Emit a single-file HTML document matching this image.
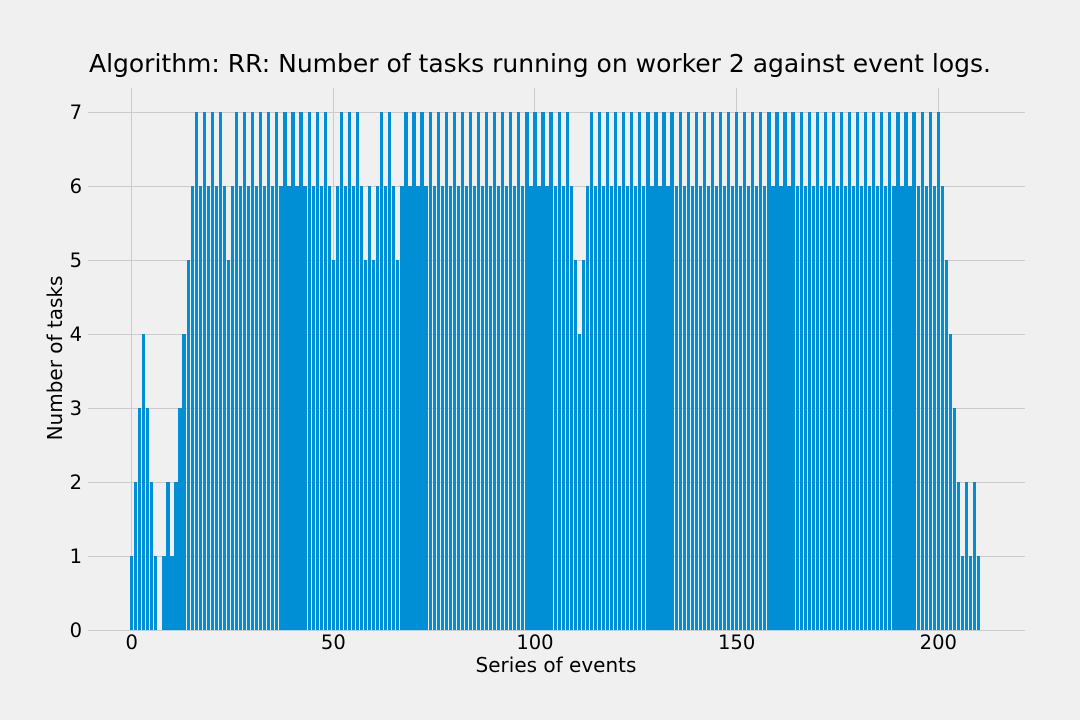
<!DOCTYPE html>
<html><head><meta charset="utf-8"><style>
html,body{margin:0;padding:0;background:#f0f0f0;}
svg{display:block;font-family:"DejaVu Sans","Liberation Sans",sans-serif;}
</style></head><body>
<svg id="chart" width="1080" height="720" xmlns="http://www.w3.org/2000/svg">
<rect x="0" y="0" width="1080" height="720" fill="#f0f0f0"/>
<text x="540" y="72" font-size="25" text-anchor="middle" fill="#000">Algorithm: RR: Number of tasks running on worker 2 against event logs.</text>
<g id="grid"></g>
<g id="bars"></g>
<g id="ticks"></g>
<text x="556" y="672" font-size="20" text-anchor="middle" fill="#000">Series of events</text>
<text x="0" y="0" font-size="20" text-anchor="middle" fill="#000" transform="translate(62,358) rotate(-90)">Number of tasks</text>
</svg>
<script>
const values = [1,2,3,4,3,2,1,0,1,2,1,2,3,4,5,
6,7,6,7,6,7,6,7,6,5,
6,7,6,7,6,7,6,7,6,7,
6,7,6,7,6,7,6,7,6,7,
6,7,6,7,6,5,6,7,6,7,
6,7,6,5,6,5,6,7,6,7,
6,5,6,7,6,7,6,7,6,7,
6,7,6,7,6,7,6,7,6,7,
6,7,6,7,6,7,6,7,6,7,
6,7,6,7,6,7,6,7,6,7,
6,7,6,7,6,5,4,5,6,7,
6,7,6,7,6,7,6,7,6,7,
6,7,6,7,6,7,6,7,6,7,
6,7,6,7,6,7,6,7,6,7,
6,7,6,7,6,7,6,7,6,7,
6,7,6,7,6,7,6,7,6,7,
6,7,6,7,6,7,6,7,6,7,
6,7,6,7,6,7,6,7,6,7,
6,7,6,7,6,7,6,7,6,7,
6,7,6,7,6,7,6,5,4,3,
2,1,2,1,2,1];
const xTicks = [0,50,100,150,200];
const yTicks = [0,1,2,3,4,5,6,7];

const NS = "http://www.w3.org/2000/svg";
const X0 = 131.68, XS = 4.033, Y0 = 630, YS = 74;
const plotL = 88, plotR = 1025, plotT = 88, plotB = 630;
function xs(v){ return X0 + v * XS; }
function ys(v){ return Y0 - v * YS; }

const grid = document.getElementById('grid');
const bars = document.getElementById('bars');
const ticks = document.getElementById('ticks');

xTicks.forEach(t => {
  const l = document.createElementNS(NS, 'line');
  
  
  const x = Math.floor(xs(t)) + 0.5;
  l.setAttribute('x1', x); l.setAttribute('x2', x);
  l.setAttribute('y1', plotT); l.setAttribute('y2', plotB);
  l.setAttribute('stroke', '#cbcbcb'); l.setAttribute('stroke-width', '1');
  grid.appendChild(l);
  const tx = document.createElementNS(NS, 'text');
  
  
  tx.setAttribute('x', xs(t)); tx.setAttribute('y', 649);
  tx.setAttribute('font-size', '19.5'); tx.setAttribute('text-anchor', 'middle');
  tx.textContent = t;
  ticks.appendChild(tx);
});
yTicks.forEach(t => {
  const l = document.createElementNS(NS, 'line');
  
  
  const y = Math.round(ys(t)) + 0.5;
  l.setAttribute('x1', plotL); l.setAttribute('x2', plotR);
  l.setAttribute('y1', y); l.setAttribute('y2', y);
  l.setAttribute('stroke', '#cbcbcb'); l.setAttribute('stroke-width', '1');
  grid.appendChild(l);
  const tx = document.createElementNS(NS, 'text');
  
  
  tx.setAttribute('x', 82); tx.setAttribute('y', ys(t) + 7);
  tx.setAttribute('font-size', '19.5'); tx.setAttribute('text-anchor', 'end');
  tx.textContent = t;
  ticks.appendChild(tx);
});
values.forEach((v, i) => {
  if (v <= 0) return;
  const r = document.createElementNS(NS, 'rect');
  
  
  const l = Math.round(xs(i - 0.4)), rt = Math.round(xs(i + 0.4));
  const top = Math.round(ys(v));
  r.setAttribute('x', l); r.setAttribute('width', rt - l);
  r.setAttribute('y', top); r.setAttribute('height', Math.round(ys(0)) - top);
  r.setAttribute('fill', '#008fd5');
  r.setAttribute('shape-rendering', 'crispEdges');
  bars.appendChild(r);
});
</script>
</body></html>
